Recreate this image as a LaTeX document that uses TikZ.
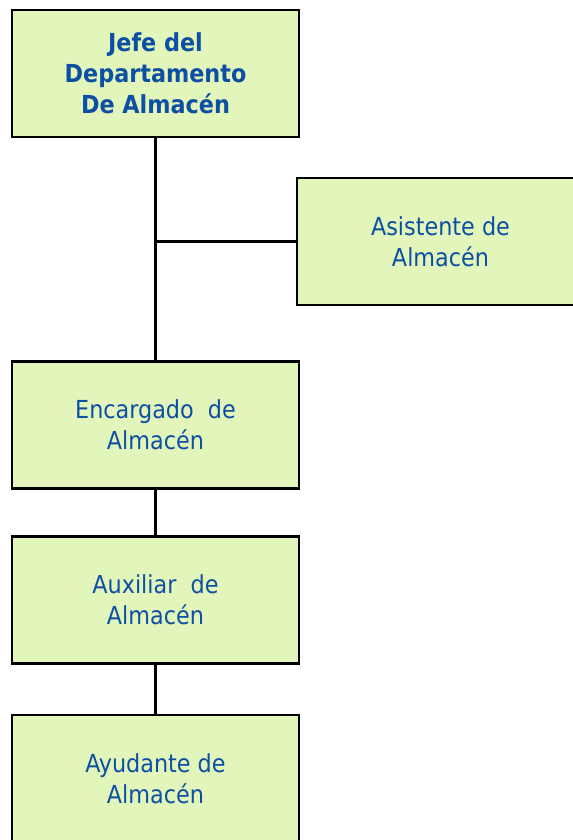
\documentclass[tikz,border=0pt]{standalone}
\usepackage{fontspec}
\setmainfont{DejaVu Sans Condensed}
\usepackage{xcolor}
\usetikzlibrary{positioning}

\definecolor{verdecaja}{HTML}{E2F5BB}
\definecolor{azultexto}{HTML}{0D4FA3}

\tikzset{
	puesto/.style={draw=black,line width=2.2pt,fill=verdecaja,text=azultexto,
		minimum width=215.25pt,minimum height=95.25pt,align=center,inner sep=0pt,
		font=\fontsize{18.6}{23.25}\selectfont},
	jefatura/.style={puesto,font=\fontsize{18.6}{23.25}\selectfont\bfseries},
	enlace/.style={line width=2.1pt,black}
}

\begin{document}
\begin{tikzpicture}[x=0.75pt,y=-0.75pt]
	\useasboundingbox (0,0) rectangle (573,840);
	\clip (0,0) rectangle (573,840);

	\node[jefatura] (jefe) at (155.5,73.5) {Jefe del\\Departamento\\De Almac\'en};
	\node[puesto] (asistente) at (440.5,241.5) {Asistente de\\Almac\'en};
	\node[puesto] (encargado) at (155.5,425) {Encargado\ \ de\\Almac\'en};
	\node[puesto] (auxiliar) at (155.5,600) {Auxiliar\ \ de\\Almac\'en};
	\node[puesto] (ayudante) at (155.5,778.5) {Ayudante de\\Almac\'en};

	% lineas de mando
	\draw[enlace] (jefe.south) -- (encargado.north);
	\draw[enlace] (asistente.west) -- (asistente.west -| jefe.south);
	\draw[enlace] (encargado.south) -- (auxiliar.north);
	\draw[enlace] (auxiliar.south) -- (ayudante.north);
\end{tikzpicture}
\end{document}
